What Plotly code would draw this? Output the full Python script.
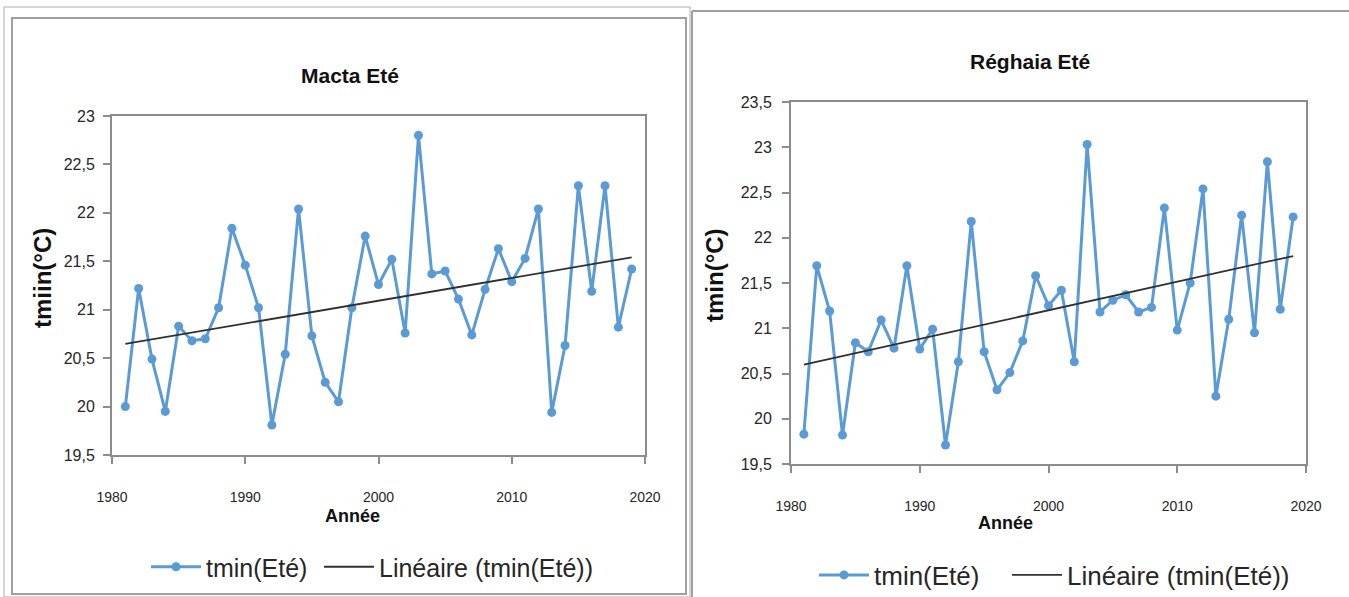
import numpy as np
import plotly.graph_objects as go

years = list(range(1981, 2020))
macta_tmin = [20.00, 21.22, 20.49, 19.95, 20.83, 20.68, 20.70, 21.02, 21.84, 21.46,
              21.02, 19.81, 20.54, 22.04, 20.73, 20.25, 20.05, 21.02, 21.76,
              21.26, 21.52, 20.76, 22.80, 21.37, 21.40, 21.11, 20.74, 21.21, 21.63,
              21.29, 21.53, 22.04, 19.94, 20.63, 22.28, 21.19, 22.28, 20.82, 21.42]
reghaia_tmin = [19.83, 21.69, 21.19, 19.82, 20.84, 20.74, 21.09, 20.78, 21.69, 20.77,
                20.99, 19.71, 20.63, 22.18, 20.74, 20.32, 20.51, 20.86, 21.58,
                21.25, 21.42, 20.63, 23.03, 21.18, 21.31, 21.37, 21.18, 21.23, 22.33,
                20.98, 21.50, 22.54, 20.25, 21.10, 22.25, 20.95, 22.84, 21.21, 22.23]
titles = ["Macta Eté", "Réghaia Eté"]
ytitles = ["tmiin(°C)", "tmin(°C)"]
xtitle = "Année"
series_name = "tmin(Eté)"
trend_name = "Linéaire (tmin(Eté))"

W, H = 1349, 597
FONT = "Liberation Sans, Arial, sans-serif"
BLUE = "#5B9BD5"
AXC = "#8c8c8c"
TXT = "#262626"


def px(x):
    return x / W


def py(y):
    return 1 - y / H


fig = go.Figure()


def trend(vals):
    a, b = np.polyfit(years, vals, 1)
    return [a * x + b for x in years]


for i, (vals, leg, lw) in enumerate([(macta_tmin, "legend", 108), (reghaia_tmin, "legend2", 128)]):
    xa = "x" if i == 0 else "x2"
    ya = "y" if i == 0 else "y2"
    fig.add_trace(go.Scatter(x=years, y=vals, mode="lines+markers", name=series_name,
                             line=dict(color=BLUE, width=3), marker=dict(size=9, color=BLUE),
                             xaxis=xa, yaxis=ya, legend=leg, legendwidth=lw))
    fig.add_trace(go.Scatter(x=years, y=trend(vals), mode="lines", name=trend_name,
                             line=dict(color="#303030", width=1.8),
                             xaxis=xa, yaxis=ya, legend=leg))

xfont = dict(family=FONT, size=14, color=TXT)
yfont = dict(family=FONT, size=16, color=TXT)
axis_common = dict(showline=True, mirror=True, linecolor=AXC, linewidth=2,
                   ticks="outside", tickcolor=AXC, ticklen=7, tickwidth=1.5,
                   showgrid=False, zeroline=False, automargin=False)

fig.update_layout(
    width=W, height=H,
    margin=dict(l=0, r=0, t=0, b=0, pad=0, autoexpand=False),
    paper_bgcolor="white", plot_bgcolor="white",
    separators=", ",
    xaxis=dict(domain=[px(112), px(645)], range=[1980, 2020], dtick=10, anchor="y",
               ticklabelstandoff=21, tickfont=xfont, **axis_common),
    yaxis=dict(domain=[py(455), py(116)], range=[19.5, 23], dtick=0.5, anchor="x",
               ticklabelstandoff=5, tickfont=yfont, **axis_common),
    xaxis2=dict(domain=[px(791), px(1306)], range=[1980, 2020], dtick=10, anchor="y2",
                ticklabelstandoff=21, tickfont=xfont, **axis_common),
    yaxis2=dict(domain=[py(464), py(102)], range=[19.5, 23.5], dtick=0.5, anchor="x2",
                ticklabelstandoff=7, tickfont=yfont, **axis_common),
    legend=dict(orientation="h", x=px(146), y=py(567), xanchor="left", yanchor="middle",
                font=dict(family=FONT, size=25, color=TXT), bgcolor="rgba(0,0,0,0)",
                itemwidth=50, tracegroupgap=0),
    legend2=dict(orientation="h", x=px(814), y=py(575), xanchor="left", yanchor="middle",
                 font=dict(family=FONT, size=26, color=TXT), bgcolor="rgba(0,0,0,0)",
                 itemwidth=50, tracegroupgap=0),
    showlegend=True,
)

ann_common = dict(xref="paper", yref="paper", showarrow=False, xanchor="center", yanchor="middle")
ann = [
    dict(text="<b>" + titles[0] + "</b>", x=px(350), y=py(75),
         font=dict(family=FONT, size=21, color="#111"), **ann_common),
    dict(text="<b>" + titles[1] + "</b>", x=px(1030), y=py(62),
         font=dict(family=FONT, size=21, color="#111"), **ann_common),
    dict(text="<b>" + ytitles[0] + "</b>", x=px(42), y=py(278), textangle=-90,
         font=dict(family=FONT, size=24, color="#111"), **ann_common),
    dict(text="<b>" + ytitles[1] + "</b>", x=px(714), y=py(275), textangle=-90,
         font=dict(family=FONT, size=24, color="#111"), **ann_common),
    dict(text="<b>" + xtitle + "</b>", x=px(352), y=py(516),
         font=dict(family=FONT, size=18, color="#111"), **ann_common),
    dict(text="<b>" + xtitle + "</b>", x=px(1005), y=py(523),
         font=dict(family=FONT, size=18, color="#111"), **ann_common),
]
fig.update_layout(annotations=ann)

shapes = [
    dict(type="rect", x0=px(4), x1=px(690), y0=py(597), y1=py(7), xref="paper", yref="paper",
         line=dict(color="#c8c8c8", width=1.5)),
    dict(type="rect", x0=px(12), x1=px(686), y0=py(594), y1=py(18), xref="paper", yref="paper",
         line=dict(color="#a0a0a0", width=2)),
    dict(type="line", x0=px(692), x1=px(692), y0=py(597), y1=py(11), xref="paper", yref="paper",
         line=dict(color="#a0a0a0", width=2)),
    dict(type="line", x0=px(692), x1=1, y0=py(11), y1=py(11), xref="paper", yref="paper",
         line=dict(color="#a0a0a0", width=2)),
]
fig.update_layout(shapes=shapes)

fig.write_html("out.html", config={"displayModeBar": False},
               post_script="document.body.style.margin='0';document.body.style.overflow='hidden';")
